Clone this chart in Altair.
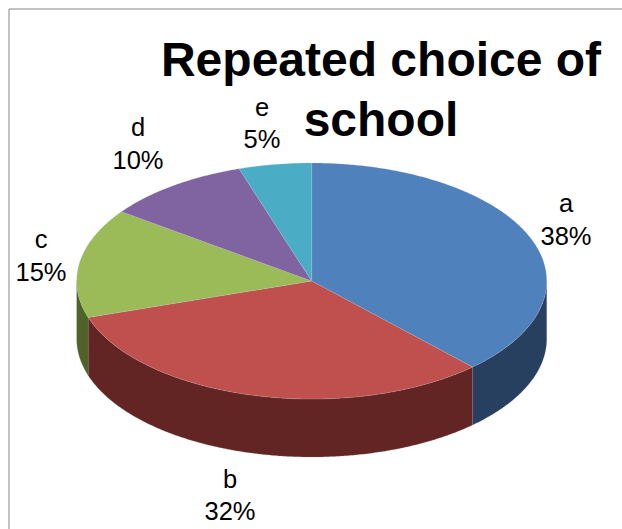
import math
import altair as alt
import pandas as pd

# Pie content
names = ["a", "b", "c", "d", "e"]
shares = [38, 32, 15, 10, 5]
top_colors = ["#4F81BD", "#C0504D", "#9BBB59", "#8064A2", "#4BACC6"]
side_colors = ["#27405F", "#632523", "#4F6228", "#3F3151", "#205867"]

# Slice label anchors: centre x, baseline of the name, baseline of the percentage
label_x = [566, 230, 41, 138, 262]
name_base = [212, 488, 248, 136, 116]
pct_base = [245, 520, 281, 169, 148]

title_lines = ["Repeated choice of", "school"]
title_x = [381, 381]
title_base = [76, 136]

# Tilted disc geometry on the page-sized scales
CX, CY, RX, RY, DEPTH = 311.7, 281, 235, 118, 58
W, H = 622, 529


def rim(deg, drop=0):
    t = math.radians(deg)
    return CX + RX * math.sin(t), CY - RY * math.cos(t) + drop


def arc_degrees(start, end):
    n = max(2, int((end - start) * 2))
    return [start + (end - start) * i / n for i in range(n + 1)]


top_rows, side_rows = [], []
cum = 0.0
for name, share in zip(names, shares):
    start, end = cum * 3.6, (cum + share) * 3.6
    cum += share

    pts = [(CX, CY)] + [rim(d) for d in arc_degrees(start, end)] + [(CX, CY)]
    top_rows += [{"slice": name, "i": i, "px": p[0], "py": p[1]} for i, p in enumerate(pts)]

    # Only the front half of the rim is visible
    lo, hi = max(start, 90), min(end, 270)
    if hi > lo:
        degs = arc_degrees(lo, hi)
        pts = [rim(d) for d in degs] + [rim(d, DEPTH) for d in reversed(degs)]
        pts.append(pts[0])
        side_rows += [{"slice": name, "i": i, "px": p[0], "py": p[1]} for i, p in enumerate(pts)]

x_scale = alt.Scale(domain=[0, W], range=[0, W], nice=False, zero=False)
y_scale = alt.Scale(domain=[0, H], range=[0, H], nice=False, zero=False)
X = alt.X("px:Q", scale=x_scale, axis=None)
Y = alt.Y("py:Q", scale=y_scale, axis=None)

sides = (
    alt.Chart(pd.DataFrame(side_rows))
    .mark_line(strokeWidth=0.5, strokeOpacity=0.4, interpolate="linear")
    .encode(
        x=X,
        y=Y,
        order="i:Q",
        detail="slice:N",
        fill=alt.Fill("slice:N", scale=alt.Scale(domain=names, range=side_colors), legend=None),
        stroke=alt.value("#8a8a8a"),
    )
)

tops = (
    alt.Chart(pd.DataFrame(top_rows))
    .mark_line(strokeWidth=0.5, strokeOpacity=0.4, interpolate="linear")
    .encode(
        x=X,
        y=Y,
        order="i:Q",
        detail="slice:N",
        fill=alt.Fill("slice:N", scale=alt.Scale(domain=names, range=top_colors), legend=None),
        stroke=alt.value("#c4c9d2"),
    )
)

frame = pd.DataFrame(
    {"px": [9, 9], "px2": [9, W], "py": [9, 9], "py2": [H, 9]}
)
border = (
    alt.Chart(frame)
    .mark_rule(color="#868686", strokeWidth=1)
    .encode(x=X, x2="px2:Q", y=Y, y2="py2:Q")
)

label_rows = []
for n, s, lx, nb, pb in zip(names, shares, label_x, name_base, pct_base):
    label_rows.append({"px": lx, "py": nb, "t": n})
    label_rows.append({"px": lx, "py": pb, "t": f"{s}%"})

labels = (
    alt.Chart(pd.DataFrame(label_rows))
    .mark_text(font="Liberation Sans", fontSize=25.5, color="#000000", align="center", baseline="alphabetic")
    .encode(x=X, y=Y, text="t:N")
)

title = (
    alt.Chart(pd.DataFrame({"px": title_x, "py": title_base, "t": title_lines}))
    .mark_text(font="Liberation Sans", fontSize=48, fontWeight="bold", color="#000000", align="center", baseline="alphabetic")
    .encode(x=X, y=Y, text="t:N")
)

chart = (
    alt.layer(border, sides, tops, labels, title)
    .resolve_scale(fill="independent")
    .properties(width=W, height=H, padding=0, autosize=alt.AutoSizeParams(type="none"), background="#ffffff")
    .configure_view(stroke=None)
)

chart.save("out.html", embed_options={"renderer": "svg", "actions": False})
